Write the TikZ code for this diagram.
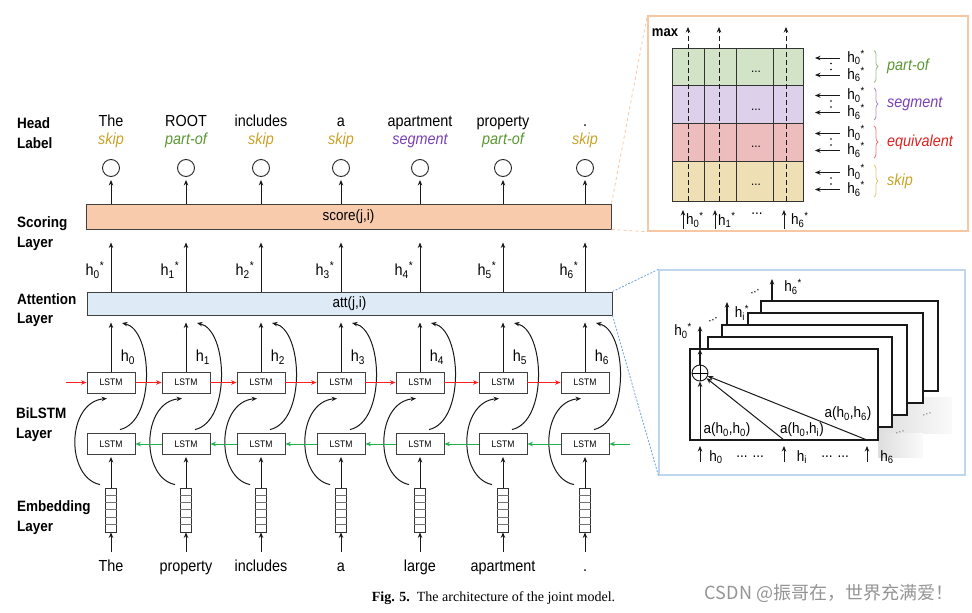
\documentclass[tikz,border=0pt]{standalone}
\usepackage{fontspec}
\setmainfont{Liberation Sans}[FakeStretch=0.9]
\newfontfamily\capfont{Liberation Serif}
\newfontfamily\cjkfont{Noto Sans CJK SC}
\usetikzlibrary{arrows.meta,calc,decorations.pathreplacing}
\newcommand{\myfs}[1]{\fontsize{#1}{#1}\selectfont}
\newcommand{\hst}[1]{h\textsubscript{#1}\textsuperscript{*}}
\newcommand{\hsb}[1]{h\textsubscript{#1}}
\definecolor{scorefill}{HTML}{F8CBAD}
\definecolor{attfill}{HTML}{DEEBF7}
\definecolor{peachline}{HTML}{F7C6A3}
\definecolor{paneblue}{HTML}{BDD7EE}
\definecolor{connblue}{HTML}{6FA3D8}
\definecolor{fwdred}{HTML}{FF1F1F}
\definecolor{bwdgreen}{HTML}{22B14C}
\definecolor{cgreen}{HTML}{5A9632}
\definecolor{cpurple}{HTML}{7A3FB5}
\definecolor{cred}{HTML}{E0201E}
\definecolor{cgold}{HTML}{C9A227}
\definecolor{rowgreen}{HTML}{D3E3C8}
\definecolor{rowpurple}{HTML}{DDD0EA}
\definecolor{rowred}{HTML}{EDBDBD}
\definecolor{rowtan}{HTML}{EEDFB5}
\tikzset{
  arr/.style={-{Stealth[length=5.5pt,width=4.5pt]}, line width=1pt, draw=black!90},
  lstmbox/.style={draw=black!75, line width=0.9pt, minimum width=48pt, minimum height=21pt, inner sep=0pt, font=\myfs{9.5}},
  word/.style={font=\myfs{16}, inner sep=0pt},
  lbl/.style={font=\myfs{16}\itshape, inner sep=0pt},
  layerlbl/.style={font=\fontsize{15}{19.5}\selectfont\bfseries, align=left, anchor=west, inner sep=0pt},
  bar/.style={draw=black!75, line width=1pt, minimum width=525pt, inner sep=0pt, font=\myfs{15}},
  outcirc/.style={circle, draw=black!85, line width=0.9pt, minimum size=17pt, inner sep=0pt},
  embbox/.style={draw=black!80, line width=0.8pt, minimum width=11pt, minimum height=44pt, inner sep=0pt},
  hlab/.style={font=\myfs{16}, inner sep=0pt},
  plab/.style={font=\myfs{15}, inner sep=0pt},
  gridrow/.style={draw=black!80, line width=1pt, minimum width=131pt, inner sep=0pt},
  stackrect/.style={draw=black!90, line width=1.1pt, fill=white, inner sep=0pt},
}
\begin{document}
\begin{tikzpicture}[x=1pt,y=-1pt]
\useasboundingbox (0,0) rectangle (972,613);

% ---------- bars ----------
\node[bar, fill=scorefill, minimum height=25pt] (score) at (348.5,216.5) {score(j,i)};
\node[bar, fill=attfill, minimum height=23pt] (att) at (349.5,303.5) {att(j,i)};

% ---------- layer labels ----------
\node[layerlbl] (lhead) at (17,133) {Head\\Label};
\node[layerlbl] (lscore) at (17,233.5) {Scoring\\Layer};
\node[layerlbl] (latt) at (17,310) {Attention\\Layer};
\node[layerlbl] (lbil) at (16,424.5) {BiLSTM\\Layer};
\node[layerlbl] (lemb) at (17,517.5) {Embedding\\Layer};

% ---------- columns ----------
\foreach \x/\tw/\tl/\tc/\bw [count=\i from 0] in {111/The/skip/cgold/The, 186/ROOT/part-of/cgreen/property, 261/includes/skip/cgold/includes, 341/a/skip/cgold/a, 420/apartment/segment/cpurple/large, 503/property/part-of/cgreen/apartment, 585/./skip/cgold/.}{
  \node[word, anchor=base] (t\i) at (\x,126) {\tw};
  \node[lbl, text=\tc, anchor=base] (tl\i) at (\x,144) {\tl};
  \node[outcirc] (c\i) at (\x,168) {};
  \draw[arr] (score.north -| c\i) -- ($(c\i.south)+(0,3)$);
  \node[lstmbox] (lf\i) at (\x,382.5) {LSTM};
  \node[lstmbox] (lb\i) at (\x,444) {LSTM};
  \node[embbox] (emb\i) at (\x,510) {};
  \foreach \k in {1,...,5}{
    \draw[line width=0.6pt, black!55] ($(emb\i.north west)+(0,\k*7.333)$) -- ($(emb\i.north east)+(0,\k*7.333)$);
  }
  \node[word, anchor=base] (w\i) at (\x,571) {\bw};
  \draw[arr] ([yshift=19pt]w\i.base) -- (emb\i.south);
  \draw[arr, shorten >=2pt] (emb\i.north) -- (lb\i.south);
  \draw[arr] (lf\i.north) -- ($(att.south -| lf\i)+(0,7)$);
  \draw[arr] (att.north -| lf\i) -- ($(score.south -| lf\i)+(0,13)$);
  \node[hlab] (hs\i) at (\x-16,270) {\hst{\i}};
  \node[hlab] (hh\i) at (\x+17,357) {\hsb{\i}};
  % backward LSTM -> attention
  \draw[arr] ($(lb\i.north)+(9,-3.5)$) .. controls +(36,-8) and +(31,7) .. ($(att.south -| lf\i)+(11,7.5)$);
  % embedding -> forward LSTM
  \draw[arr] ($(emb\i.north west)+(-5,-3)$) .. controls +(-34.5,-7) and +(-41,4) .. ($(lf\i.south)+(-4,5)$);
}
\coordinate (rin) at (66,382.5);
\coordinate (gin) at (630,444);
\draw[arr, draw=fwdred] (rin) -- (lf0.west);
\draw[arr, draw=bwdgreen] (gin) -- (lb6.east);
\foreach \i/\j in {0/1,1/2,2/3,3/4,4/5,5/6}{
  \draw[arr, draw=fwdred] (lf\i.east) -- (lf\j.west);
  \draw[arr, draw=bwdgreen] (lb\j.west) -- (lb\i.east);
}

% ---------- panel A (scoring detail) ----------
\node[draw=peachline, line width=1.4pt, minimum width=320pt, minimum height=215pt, inner sep=0pt] (panA) at (808,123.5) {};
\draw[peachline, dashed, line width=0.8pt] (score.north east) -- (panA.north west);
\draw[peachline, dashed, line width=0.8pt] (score.south east) -- (panA.south west);

\node[gridrow, fill=rowgreen, minimum height=37pt] (rA) at (737.5,66.5) {};
\node[gridrow, fill=rowpurple, minimum height=38pt] (rB) at (737.5,104) {};
\node[gridrow, fill=rowred, minimum height=38pt] (rC) at (737.5,142) {};
\node[gridrow, fill=rowtan, minimum height=40pt] (rD) at (737.5,181) {};
\foreach \gx in {704,736,773} \draw[line width=0.9pt, black!80] (\gx,48) -- (\gx,201);
\foreach \gx in {688,719,786} \draw[arr, dash pattern=on 5pt off 3pt, line width=0.8pt] (\gx,201) -- (\gx,27);
\node[font=\myfs{14.5}\bfseries, inner sep=0pt] (maxl) at (665,33) {max};
\foreach \yc [count=\r] in {72,110,147,185} \node[font=\myfs{13}, inner sep=0pt] (gd\r) at (756,\yc) {...};

\foreach \yc/\lab/\rc [count=\r] in {66.5/part-of/cgreen, 104/segment/cpurple, 142/equivalent/cred, 181/skip/cgold}{
  \draw[arr, line width=0.9pt] (840,\yc-8.5) -- (815,\yc-8.5);
  \draw[arr, line width=0.9pt] (840,\yc+8.5) -- (815,\yc+8.5);
  \node[hlab, font=\myfs{15}] (ha\r) at (856,\yc-9) {\hst{0}};
  \node[hlab, font=\myfs{15}] (hb\r) at (856,\yc+8) {\hst{6}};
  \fill (831,\yc-3) circle (0.8);
  \fill (831,\yc+3) circle (0.8);
  \draw[decorate, decoration={brace, amplitude=4pt}, draw=\rc!60, line width=0.8pt] (874,\yc-16) -- (874,\yc+16);
  \node[font=\myfs{16}\itshape, text=\rc, anchor=west, inner sep=0pt] (rl\r) at (887,\yc) {\lab};
}
\foreach \ax in {683,715,784} \draw[arr, line width=0.9pt] (\ax,229) -- (\ax,210);
\node[hlab, font=\myfs{15}, anchor=west] (pb0) at (686,220) {\hst{0}};
\node[hlab, font=\myfs{15}, anchor=west] (pb1) at (718,220) {\hst{1}};
\node[hlab, font=\myfs{15}] (pbd) at (757,214) {...};
\node[hlab, font=\myfs{15}, anchor=west] (pb6) at (791,220) {\hst{6}};

% ---------- panel B (attention detail) ----------
\node[draw=paneblue, line width=1.2pt, minimum width=306pt, minimum height=205pt, inner sep=0pt] (panB) at (812,372.5) {};
\draw[connblue, dash pattern=on 2pt off 1.5pt, line width=0.8pt] (att.north east) -- (panB.north west);
\draw[connblue, dash pattern=on 2pt off 1.5pt, line width=0.8pt] (att.south east) -- (panB.south west);

\shade[left color=black!13, right color=black!2] (878,397) rectangle (952,433);
\shade[left color=black!13, right color=black!2] (878,433) rectangle (923,457);
\node[font=\myfs{13}, text=black!45, rotate=20, inner sep=0pt] (sd1) at (900,432) {...};
\node[font=\myfs{13}, text=black!45, rotate=20, inner sep=0pt] (sd2) at (927,414) {...};

\node[stackrect, minimum width=177pt, minimum height=90pt] (R4) at (849.5,346) {};
\node[stackrect, minimum width=175pt, minimum height=90pt] (R3) at (835.5,358) {};
\node[stackrect, minimum width=185pt, minimum height=90pt] (R2) at (814.5,370) {};
\node[stackrect, minimum width=184pt, minimum height=90pt] (R1) at (800,382) {};
\node[stackrect, minimum width=188pt, minimum height=91pt] (R0) at (784,394.5) {};

\node[circle, draw=black!90, line width=0.9pt, minimum size=16pt, inner sep=0pt] (oplus) at (700,373) {};
\draw[line width=0.8pt] (oplus.north) -- (oplus.south);
\draw[line width=0.8pt] (oplus.west) -- (oplus.east);

\coordinate (r0top) at (700,349);
\coordinate (o0) at (700,326);
\coordinate (oi0) at (727,324);
\coordinate (oi1) at (727,302);
\coordinate (o60) at (772,300);
\coordinate (o61) at (772,279);
\draw[arr, line width=1.1pt] (oplus.north) -- (r0top);
\draw[arr, line width=1.1pt] (r0top) -- (o0);
\draw[arr, line width=1.1pt] (oi0) -- (oi1);
\draw[arr, line width=1.1pt] (o60) -- (o61);
\node[hlab, font=\myfs{15}] (ph0) at (683,331) {\hst{0}};
\node[hlab, font=\myfs{15}] (phi) at (742,313) {\hst{i}};
\node[hlab, font=\myfs{15}] (ph6) at (793,287) {\hst{6}};
\node[font=\myfs{13}, rotate=25, inner sep=0pt] (td1) at (713,320) {...};
\node[font=\myfs{13}, rotate=25, inner sep=0pt] (td2) at (755,292) {...};

\coordinate (b1) at (784,440);
\coordinate (b2) at (867,440);
\draw[arr] (R0.south -| oplus) -- (oplus.south);
\draw[arr] (b1) -- (oplus);
\draw[arr] (b2) -- (oplus);
\node[plab] (a00) at (727,430) {a(\hsb{0},\hsb{0})};
\node[plab] (a0i) at (802,430) {a(\hsb{0},\hsb{i})};
\node[plab] (a06) at (848,414) {a(\hsb{0},\hsb{6})};

\foreach \bx [count=\r] in {700,784,867}{
  \coordinate (bs\r) at (\bx,462);
  \coordinate (bt\r) at (\bx,446);
  \draw[arr] (bs\r) -- (bt\r);
}
\node[hlab, font=\myfs{15}] (bh0) at (716,457) {\hsb{0}};
\node[hlab, font=\myfs{15}] (bd1) at (750,457) {... ...};
\node[hlab, font=\myfs{15}] (bhi) at (802,457) {\hsb{i}};
\node[hlab, font=\myfs{15}] (bd2) at (835,457) {... ...};
\node[hlab, font=\myfs{15}] (bh6) at (887,457) {\hsb{6}};

% ---------- caption & watermark ----------
\node[font=\capfont\myfs{14}, inner sep=0pt] (cap) at (493.5,598) {\textbf{Fig. 5.}\enspace The architecture of the joint model.};
\node[font=\cjkfont\myfs{18}, text=black!42, inner sep=0pt] (wm) at (829,593) {CSDN @振哥在，世界充满爱！};
\end{tikzpicture}
\end{document}
